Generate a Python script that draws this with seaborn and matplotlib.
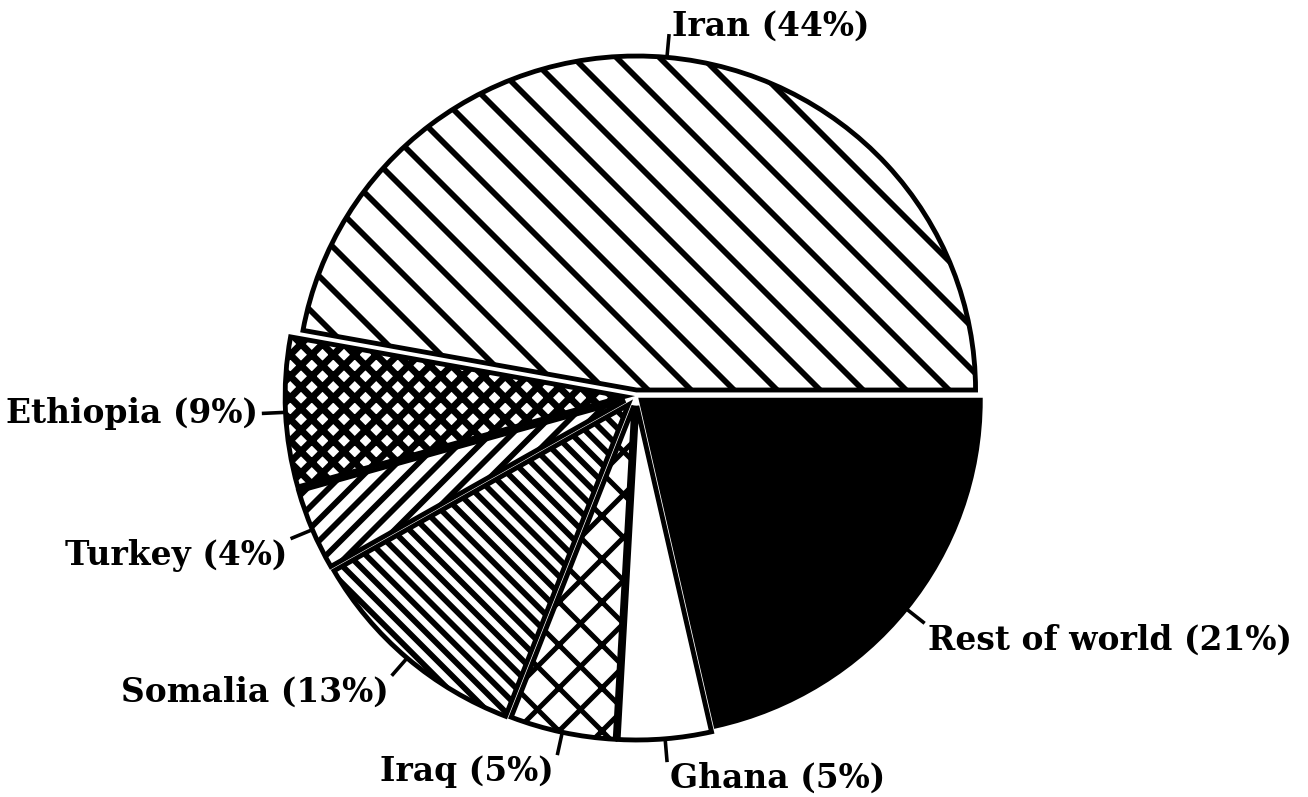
import numpy as np
import matplotlib
matplotlib.use("Agg")
import matplotlib.pyplot as plt
import seaborn as sns

# ---- data (wedge sizes; labels as printed) ----
countries = ["Iran", "Ethiopia", "Turkey", "Somalia", "Iraq", "Ghana", "Rest of world"]
wedge_sizes = [47.0, 7.2, 3.9, 10.8, 5.0, 4.4, 21.4]
label_pcts = [44, 9, 4, 13, 5, 5, 21]

# ---- styles ----
hatches = ["\\\\", "xxxx", "////", "\\\\\\\\\\", "xx", "", ""]
hatch_lws = [1.6, 1.9, 1.6, 1.6, 1.4, 1.0, 1.0]
faces = ["white", "white", "white", "white", "white", "white", "black"]
explode = [0.018, 0.035, 0.035, 0.035, 0.03, 0.03, 0.02]

sns.set_theme(style="white")
plt.rcParams["font.family"] = ["DejaVu Serif"]
plt.rcParams["hatch.linewidth"] = 1.6
plt.rcParams["hatch.color"] = "black"

DPI = 258
W, H = 1308, 797
fig = plt.figure(figsize=(W / DPI, H / DPI), dpi=DPI)
ax = fig.add_axes([0, 0, 1, 1])

# pixel scale of one radius unit (horizontal / vertical) and pie centre
RX, RY = 339.0, 334.0
cx, cy = 636.0, 396.0

wedges, _ = ax.pie(
    wedge_sizes,
    startangle=0,
    counterclock=True,
    explode=explode,
    colors=faces,
    radius=1.0,
    wedgeprops=dict(edgecolor="black", linewidth=1.35),
)
for w, h, hl in zip(wedges, hatches, hatch_lws):
    w.set_hatch(h)
    w.set_edgecolor("black")
    if hasattr(w, "set_hatch_linewidth"):
        w.set_hatch_linewidth(hl)

total = float(np.sum(wedge_sizes))
starts = np.concatenate([[0], np.cumsum(wedge_sizes)[:-1]]) / total * 360
ends = np.cumsum(wedge_sizes) / total * 360
for i, (name, pct) in enumerate(zip(countries, label_pcts)):
    th = np.deg2rad((starts[i] + ends[i]) / 2)
    c, s = np.cos(th), np.sin(th)
    ox, oy = explode[i] * c, explode[i] * s
    r0, r1 = 1.0, 1.07
    x0, y0 = ox + r0 * c, oy + r0 * s
    x1, y1 = ox + r1 * c, oy + r1 * s
    ax.plot([x0, x1], [y0, y1], color="black", lw=1.0, solid_capstyle="butt")
    ha = "left" if c >= 0 else "right"
    dy = 0.0
    if s > 0.5:
        va = "bottom"
        dy = -0.025
    elif s < -0.3:
        va = "top"
    else:
        va = "center"
    dx = 0.01 if c >= 0 else -0.01
    ax.text(x1 + dx, y1 + dy, f"{name} ({pct}%)", ha=ha, va=va,
            fontsize=9.2, fontweight="bold", color="black")

ax.set_aspect("auto")
ax.set_xlim(-cx / RX, (W - cx) / RX)
ax.set_ylim(-(H - cy) / RY, cy / RY)
ax.axis("off")

fig.savefig("out.png", dpi=DPI, facecolor="white")
